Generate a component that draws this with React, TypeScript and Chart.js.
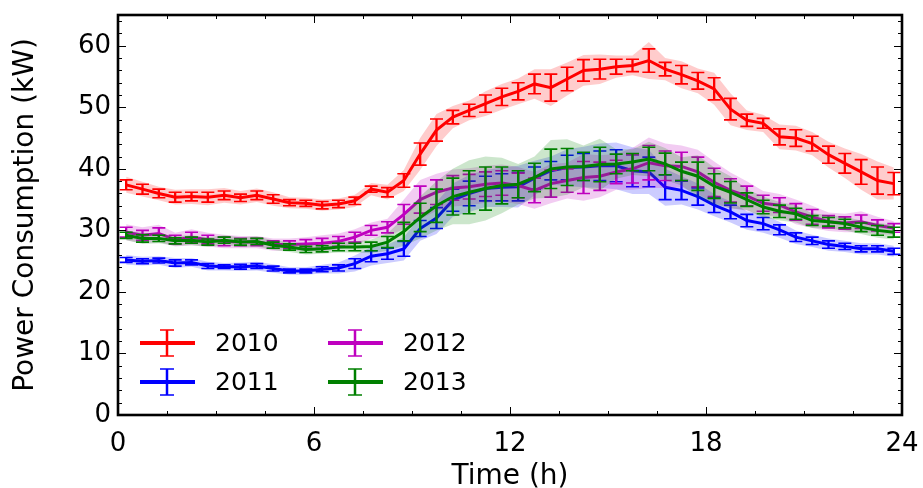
import React, { useEffect, useRef } from 'react';
import { Chart, registerables } from 'chart.js';

Chart.register(...registerables);

const hours = [0.25, 0.75, 1.25, 1.75, 2.25, 2.75, 3.25, 3.75, 4.25, 4.75, 5.25, 5.75, 6.25, 6.75, 7.25, 7.75, 8.25, 8.75, 9.25, 9.75, 10.25, 10.75, 11.25, 11.75, 12.25, 12.75, 13.25, 13.75, 14.25, 14.75, 15.25, 15.75, 16.25, 16.75, 17.25, 17.75, 18.25, 18.75, 19.25, 19.75, 20.25, 20.75, 21.25, 21.75, 22.25, 22.75, 23.25, 23.75];

const years = ['2010', '2011', '2012', '2013'];
const colors = ['#ff0000', '#0000ff', '#bf00bf', '#008000'];
const bandColors = ['rgba(255,0,0,0.2)', 'rgba(0,0,255,0.2)', 'rgba(191,0,191,0.2)', 'rgba(0,128,0,0.2)'];

const y2010 = [37.4, 36.7, 36.0, 35.4, 35.5, 35.4, 35.7, 35.3, 35.7, 35.1, 34.5, 34.4, 34.1, 34.3, 34.8, 36.7, 36.2, 38.1, 42.4, 46.3, 48.4, 49.5, 50.6, 51.7, 52.6, 53.8, 53.2, 54.6, 56.0, 56.2, 56.6, 56.8, 57.6, 56.2, 55.3, 54.3, 53.0, 49.7, 47.9, 47.4, 45.2, 45.0, 44.1, 42.3, 40.9, 39.5, 38.1, 37.6];
const y2011 = [25.2, 25.0, 25.1, 24.7, 24.8, 24.2, 24.1, 24.1, 24.2, 23.8, 23.4, 23.4, 23.7, 23.9, 24.6, 25.8, 26.2, 27.0, 30.3, 32.0, 34.9, 36.0, 36.8, 37.0, 37.1, 38.5, 39.7, 40.2, 40.3, 40.5, 40.5, 39.7, 39.5, 37.0, 36.5, 35.5, 34.1, 33.0, 31.6, 31.1, 30.1, 28.9, 28.3, 27.7, 27.4, 27.0, 27.0, 26.6];
const y2012 = [29.7, 29.2, 29.5, 28.5, 28.9, 28.5, 28.2, 28.1, 28.1, 27.7, 27.7, 27.8, 27.9, 28.2, 28.9, 30.0, 30.5, 32.6, 35.0, 36.2, 36.9, 37.1, 37.5, 37.7, 37.3, 36.5, 37.6, 38.1, 38.6, 38.8, 39.5, 40.0, 41.0, 40.5, 40.4, 39.5, 37.8, 36.5, 35.6, 34.4, 34.1, 33.0, 32.2, 31.4, 31.2, 31.4, 30.8, 30.4];
const y2013 = [29.2, 28.7, 28.7, 28.3, 28.4, 28.1, 28.4, 28.1, 28.2, 27.6, 27.3, 26.9, 27.0, 27.3, 27.3, 27.4, 28.1, 29.8, 32.1, 34.0, 35.5, 36.2, 36.8, 37.3, 37.5, 38.6, 40.0, 40.3, 40.4, 40.7, 40.8, 41.1, 41.6, 40.8, 39.6, 38.8, 37.2, 36.2, 35.0, 33.8, 33.1, 32.7, 31.6, 31.4, 31.1, 30.5, 30.0, 29.7];

const err2010 = [0.8, 0.8, 0.7, 0.8, 0.7, 0.8, 0.7, 0.6, 0.7, 0.7, 0.5, 0.5, 0.6, 0.6, 0.6, 0.5, 0.75, 1.1, 1.8, 1.8, 1.1, 1.0, 1.4, 1.4, 1.4, 1.6, 2.2, 1.9, 1.75, 1.6, 1.2, 1.0, 1.9, 1.1, 1.5, 1.35, 1.8, 1.75, 1.0, 0.8, 1.3, 1.35, 1.2, 1.4, 1.6, 2.0, 2.2, 1.8];
const err2011 = [0.4, 0.4, 0.4, 0.5, 0.4, 0.4, 0.3, 0.4, 0.4, 0.4, 0.3, 0.3, 0.4, 0.5, 0.8, 0.9, 0.9, 1.2, 1.3, 1.7, 1.8, 2.0, 2.0, 2.2, 2.3, 1.8, 1.5, 2.0, 2.2, 2.4, 2.6, 2.6, 2.4, 2.0, 1.5, 1.4, 1.2, 1.1, 1.0, 1.0, 0.8, 0.7, 0.6, 0.6, 0.5, 0.5, 0.5, 0.5];
const err2012 = [0.8, 0.8, 0.9, 0.7, 0.8, 0.7, 0.7, 0.6, 0.6, 0.6, 0.6, 0.7, 0.8, 0.8, 0.8, 0.8, 0.9, 1.6, 2.2, 2.0, 2.0, 2.0, 2.0, 2.0, 2.0, 2.0, 2.2, 1.9, 2.6, 2.3, 1.9, 2.3, 2.8, 2.4, 2.3, 2.4, 2.3, 1.9, 1.6, 1.3, 1.2, 1.35, 1.2, 1.0, 1.0, 1.1, 0.9, 0.7];
const err2013 = [0.5, 0.6, 0.5, 0.5, 0.5, 0.5, 0.5, 0.5, 0.5, 0.5, 0.5, 0.5, 0.5, 0.6, 0.6, 0.7, 0.9, 1.5, 2.3, 2.7, 3.0, 3.5, 3.5, 3.0, 2.2, 2.3, 3.2, 3.0, 2.3, 2.8, 1.6, 1.4, 1.9, 1.75, 1.5, 2.3, 2.0, 1.75, 1.1, 1.1, 1.0, 0.9, 0.8, 0.7, 0.7, 0.7, 0.8, 0.8];

const band2010 = [1.3, 1.2, 1.1, 1.2, 1.2, 1.3, 1.2, 1.1, 1.1, 1.1, 0.9, 0.9, 0.9, 0.9, 1.0, 1.0, 1.2, 1.7, 2.6, 2.6, 1.8, 1.6, 2.0, 2.1, 2.1, 2.4, 3.0, 2.7, 2.5, 2.4, 1.8, 1.6, 3.0, 1.8, 2.2, 2.0, 2.6, 2.6, 1.6, 1.4, 2.0, 2.0, 1.9, 2.1, 2.4, 2.9, 3.1, 2.6];
const band2011 = [0.8, 0.7, 0.7, 0.8, 0.7, 0.7, 0.6, 0.7, 0.7, 0.7, 0.6, 0.6, 0.7, 0.9, 1.3, 1.5, 1.5, 1.9, 2.0, 2.6, 2.7, 3.0, 3.0, 3.2, 3.4, 2.8, 2.3, 3.0, 3.3, 3.6, 3.8, 3.8, 3.6, 3.0, 2.3, 2.1, 1.8, 1.7, 1.5, 1.5, 1.3, 1.1, 1.0, 1.0, 0.9, 0.9, 0.9, 0.9];
const band2012 = [1.3, 1.3, 1.4, 1.1, 1.3, 1.1, 1.1, 1.0, 1.0, 1.0, 1.0, 1.1, 1.3, 1.3, 1.3, 1.3, 1.4, 2.4, 3.2, 3.0, 3.0, 3.0, 3.0, 3.0, 3.0, 3.0, 3.2, 2.9, 3.8, 3.4, 2.9, 3.4, 4.1, 3.6, 3.4, 3.6, 3.4, 2.9, 2.4, 2.0, 1.8, 2.0, 1.8, 1.5, 1.5, 1.7, 1.4, 1.1];
const band2013 = [0.8, 0.9, 0.8, 0.8, 0.8, 0.8, 0.8, 0.8, 0.8, 0.8, 0.8, 0.8, 0.8, 0.9, 0.9, 1.1, 1.4, 2.3, 3.4, 4.0, 4.5, 5.2, 5.2, 4.5, 3.3, 3.4, 4.7, 4.5, 3.4, 4.2, 2.4, 2.1, 2.8, 2.6, 2.3, 3.4, 3.0, 2.6, 1.7, 1.7, 1.5, 1.4, 1.2, 1.1, 1.1, 1.1, 1.2, 1.2];

const xTicks = [0, 6, 12, 18, 24];
const yTicks = [0, 10, 20, 30, 40, 50, 60];

const seriesValues = [y2010, y2011, y2012, y2013];
const seriesErrors = [err2010, err2011, err2012, err2013];
const seriesBands = [band2010, band2011, band2012, band2013];

const FONT = "'DejaVu Sans', 'Liberation Sans', sans-serif";

const decorPlugin = {
  id: 'decor',
  afterDatasetDraw(chart: any, args: any) {
    const ds = chart.data.datasets[args.index];
    if (!ds.errors) return;
    const { ctx, chartArea } = chart;
    const xs = chart.scales.x;
    const ys = chart.scales.y;
    ctx.save();
    ctx.beginPath();
    ctx.rect(chartArea.left, chartArea.top, chartArea.right - chartArea.left, chartArea.bottom - chartArea.top);
    ctx.clip();
    ctx.strokeStyle = ds.borderColor;
    ds.data.forEach((p: any, i: number) => {
      const x = xs.getPixelForValue(p.x);
      const e = ds.errors[i];
      const y1 = ys.getPixelForValue(p.y + e);
      const y2 = ys.getPixelForValue(p.y - e);
      ctx.lineWidth = 2.3;
      ctx.beginPath();
      ctx.moveTo(x, y1);
      ctx.lineTo(x, y2);
      ctx.stroke();
      ctx.lineWidth = 1.6;
      ctx.beginPath();
      ctx.moveTo(x - 6.5, y1);
      ctx.lineTo(x + 6.5, y1);
      ctx.moveTo(x - 6.5, y2);
      ctx.lineTo(x + 6.5, y2);
      ctx.stroke();
    });
    ctx.restore();
  },
  afterDraw(chart: any) {
    const { ctx, chartArea } = chart;
    const { left, right, top, bottom } = chartArea;
    const xs = chart.scales.x;
    const ys = chart.scales.y;
    ctx.save();
    ctx.strokeStyle = '#000';
    ctx.lineWidth = 1;
    for (let v = 0; v <= 24.001; v += 1.5) {
      const x = Math.round(xs.getPixelForValue(v)) + 0.5;
      const len = xTicks.includes(Math.round(v * 10) / 10) ? 8 : 4;
      ctx.beginPath();
      ctx.moveTo(x, bottom);
      ctx.lineTo(x, bottom - len);
      ctx.moveTo(x, top);
      ctx.lineTo(x, top + len);
      ctx.stroke();
    }
    for (let v = 0; v <= 65; v += 2) {
      const y = Math.round(ys.getPixelForValue(v)) + 0.5;
      const len = yTicks.includes(v) ? 8 : 4;
      ctx.beginPath();
      ctx.moveTo(left, y);
      ctx.lineTo(left + len, y);
      ctx.moveTo(right, y);
      ctx.lineTo(right - len, y);
      ctx.stroke();
    }
    ctx.lineWidth = 2.6;
    ctx.strokeRect(left, top, right - left, bottom - top);

    const rows = [343, 382];
    const cols = [140, 328];
    years.forEach((label, i) => {
      const col = Math.floor(i / 2);
      const row = i % 2;
      const x0 = cols[col];
      const y = rows[row];
      const cx = x0 + 27;
      ctx.strokeStyle = colors[i];
      ctx.lineWidth = 4;
      ctx.beginPath();
      ctx.moveTo(x0, y);
      ctx.lineTo(x0 + 55, y);
      ctx.stroke();
      ctx.lineWidth = 2.5;
      ctx.beginPath();
      ctx.moveTo(cx, y - 13);
      ctx.lineTo(cx, y + 13);
      ctx.stroke();
      ctx.lineWidth = 1.5;
      ctx.beginPath();
      ctx.moveTo(cx - 7, y - 13);
      ctx.lineTo(cx + 7, y - 13);
      ctx.moveTo(cx - 7, y + 13);
      ctx.lineTo(cx + 7, y + 13);
      ctx.stroke();
      ctx.fillStyle = '#000';
      ctx.font = `25px ${FONT}`;
      ctx.textBaseline = 'middle';
      ctx.textAlign = 'left';
      ctx.fillText(label, x0 + 75, y + 1);
    });
    ctx.restore();
  },
};

export default function App() {
  const canvasRef = useRef<HTMLCanvasElement | null>(null);

  useEffect(() => {
    document.body.style.margin = '0';
    const canvas = canvasRef.current;
    if (!canvas) return;

    const datasets: any[] = [];
    seriesValues.forEach((vals, s) => {
      const base = 100 - s * 10;
      datasets.push({
        label: years[s] + ' upper',
        data: hours.map((h, i) => ({ x: h, y: vals[i] + seriesBands[s][i] })),
        borderWidth: 0,
        borderColor: 'rgba(0,0,0,0)',
        pointRadius: 0,
        fill: false,
        tension: 0,
        order: base,
      });
      const upperIndex = datasets.length - 1;
      datasets.push({
        label: years[s] + ' lower',
        data: hours.map((h, i) => ({ x: h, y: vals[i] - seriesBands[s][i] })),
        borderWidth: 0,
        borderColor: 'rgba(0,0,0,0)',
        backgroundColor: bandColors[s],
        pointRadius: 0,
        fill: { target: upperIndex },
        tension: 0,
        order: base - 1,
      });
      datasets.push({
        label: years[s],
        data: hours.map((h, i) => ({ x: h, y: vals[i] })),
        errors: seriesErrors[s],
        borderColor: colors[s],
        backgroundColor: colors[s],
        borderWidth: 3,
        pointRadius: 0,
        fill: false,
        tension: 0,
        order: base - 2,
      });
    });

    const chart = new Chart(canvas, {
      type: 'line',
      data: { datasets },
      options: {
        animation: false,
        responsive: true,
        maintainAspectRatio: false,
        layout: { padding: { top: 15, right: 21, left: 0, bottom: 0 } },
        plugins: {
          legend: { display: false },
          tooltip: { enabled: false },
        },
        scales: {
          x: {
            type: 'linear',
            min: 0,
            max: 24,
            grid: { display: false, drawTicks: false },
            border: { display: false },
            afterFit: (s: any) => {
              s.height = 73;
              s.paddingLeft = 0;
              s.paddingRight = 0;
            },
            ticks: {
              stepSize: 6,
              padding: 14,
              color: '#000',
              font: { family: FONT, size: 26 },
              maxRotation: 0,
            },
            title: {
              display: true,
              text: 'Time (h)',
              color: '#000',
              font: { family: FONT, size: 28, lineHeight: 0.8 },
              padding: { top: 0, bottom: 0 },
            },
          },
          y: {
            type: 'linear',
            min: 0,
            max: 65,
            grid: { display: false, drawTicks: false },
            border: { display: false },
            afterFit: (s: any) => {
              s.width = 118;
              s.paddingTop = 0;
              s.paddingBottom = 0;
            },
            ticks: {
              stepSize: 10,
              includeBounds: false,
              padding: 7,
              color: '#000',
              font: { family: FONT, size: 26 },
              callback: (v: any) => (yTicks.includes(Number(v)) ? String(v) : ''),
            },
            title: {
              display: true,
              text: 'Power Consumption (kW)',
              color: '#000',
              font: { family: FONT, size: 28, lineHeight: 1 },
              padding: { top: 12, bottom: 0 },
            },
          },
        },
      },
      plugins: [decorPlugin],
    });

    return () => chart.destroy();
  }, []);

  return (
    <div style={{ position: 'absolute', left: 0, top: 0, width: 923, height: 488 }}>
      <canvas ref={canvasRef} />
    </div>
  );
}
